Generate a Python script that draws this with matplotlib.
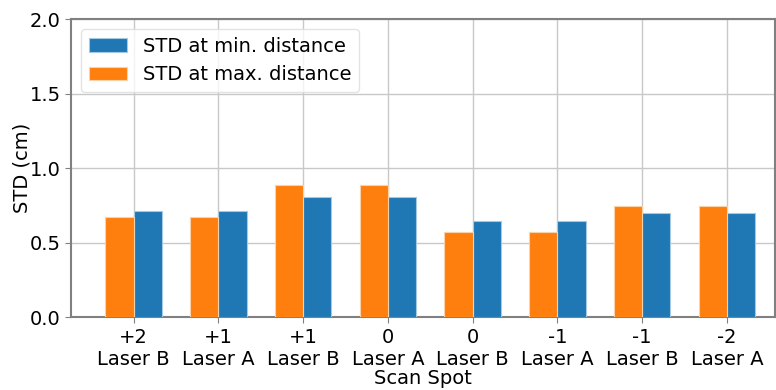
import numpy as np
import matplotlib
matplotlib.use('Agg')
import matplotlib.pyplot as plt

spots = ['+2\nLaser B', '+1\nLaser A', '+1\nLaser B', '0\nLaser A',
         '0\nLaser B', '-1\nLaser A', '-1\nLaser B', '-2\nLaser A']
std_min = [0.714, 0.714, 0.806, 0.806, 0.645, 0.645, 0.699, 0.699]
std_max = [0.672, 0.672, 0.886, 0.886, 0.573, 0.573, 0.748, 0.748]

plt.rcParams['font.size'] = 14

fig = plt.figure(figsize=(7.76, 3.9), dpi=100)
ax = fig.add_axes([0.0915, 0.186, 0.9075, 0.765])

x = np.arange(len(spots))
w = 0.333
ax.bar(x + w / 2, std_min, w, color='#1f77b4', edgecolor='#a6c8e0', linewidth=0.8,
       label='STD at min. distance', zorder=3)
ax.bar(x - w / 2, std_max, w, color='#ff7f0e', edgecolor='#fbd2a8', linewidth=0.8,
       label='STD at max. distance', zorder=3)

ax.set_xticks(x)
ax.set_xticklabels(spots)
ax.set_xlim(-0.74, 7.57)
ax.set_ylim(0, 2.0)
ax.set_yticks([0, 0.5, 1.0, 1.5, 2.0])
ax.set_xlabel('Scan Spot', labelpad=0)
ax.set_ylabel('STD (cm)', labelpad=-1.5)
ax.grid(True, color='#c8c8c8', linewidth=1, zorder=0)
ax.set_axisbelow(True)
for s in ax.spines.values():
    s.set_color('#808080')
    s.set_linewidth(1.5)
ax.tick_params(colors='black', length=4, color='#808080')
ax.legend(loc='upper left', framealpha=0.8, edgecolor='#dddddd')

fig.savefig('out.png', dpi=100)
